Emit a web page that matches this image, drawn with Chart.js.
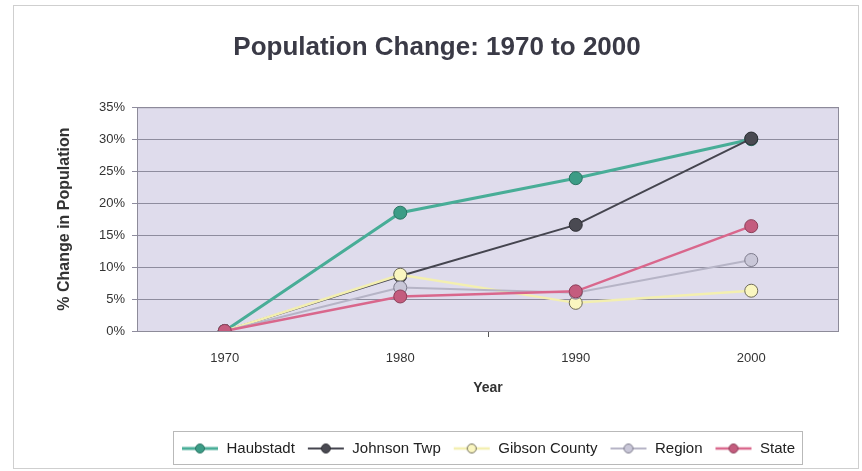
<!DOCTYPE html>
<html>
<head>
<meta charset="utf-8">
<script src="https://cdn.jsdelivr.net/npm/chart.js@4.4.1/dist/chart.umd.min.js"></script>
<style>
  html, body { margin: 0; padding: 0; background: #fff; }
  canvas { display: block; }
</style>
</head>
<body>
<canvas id="chart" width="862" height="471"></canvas>
<script>
// values, in percent
const years = ['1970', '1980', '1990', '2000'];
const haubstadt = [0, 18.5, 23.9, 30.0];
const johnsonTwp = [0, 8.6, 16.6, 30.1];
const gibsonCounty = [0, 8.8, 4.4, 6.3];
const region = [0, 6.8, 6.0, 11.1];
const state = [0, 5.4, 6.2, 16.4];
const seriesNames = ['Haubstadt', 'Johnson Twp', 'Gibson County', 'Region', 'State'];
const seriesValues = [haubstadt, johnsonTwp, gibsonCounty, region, state];
const yMax = 35;
const yStep = 5;

const FONT = "'Liberation Sans', Arial, sans-serif";

const seriesStyles = [
  { line: '#48ad97', fill: '#3c9c86', border: '#2b7464', width: 3 },
  { line: '#45454f', fill: '#4a4a52', border: '#2e2e34', width: 2 },
  { line: '#f3efb0', fill: '#faf6c0', border: '#6f6c58', width: 2.5 },
  { line: '#b6b4c6', fill: '#c9c7d8', border: '#7d7b8c', width: 2 },
  { line: '#d9678c', fill: '#c45c7e', border: '#8c3f59', width: 2.5 },
];

// little line + marker icons for the legend
function legendIcon(style) {
  const c = document.createElement('canvas');
  c.width = 38;
  c.height = 12;
  const g = c.getContext('2d');
  g.strokeStyle = style.line;
  g.lineWidth = style.width;
  g.beginPath();
  g.moveTo(1, 6);
  g.lineTo(37, 6);
  g.stroke();
  g.fillStyle = style.fill;
  g.strokeStyle = style.border;
  g.lineWidth = 1;
  g.beginPath();
  g.arc(19, 6, 4.5, 0, Math.PI * 2);
  g.fill();
  g.stroke();
  return c;
}
const legendIcons = seriesStyles.map(legendIcon);

const frame = {
  id: 'frame',
  beforeDraw(chart) {
    const { ctx, chartArea: a } = chart;
    ctx.save();
    ctx.strokeStyle = '#cfcfcf';
    ctx.lineWidth = 1;
    ctx.strokeRect(13.5, 5.5, 845, 463);
    ctx.fillStyle = '#dfdcec';
    ctx.fillRect(a.left, a.top, a.right - a.left, a.bottom - a.top);
    ctx.restore();
  },
  afterLayout(chart) {
    // centre the legend under the plot, like the original
    const lg = chart.legend;
    const a = chart.chartArea;
    lg.left = a.left;
    lg.right = a.right;
    lg.width = a.right - a.left;
    const tt = chart.titleBlock;
    if (tt) {
      tt.left = 35;
      tt.right = a.right;
      tt.width = tt.right - tt.left;
    }
  },
  afterDraw(chart) {
    const { ctx, chartArea: a } = chart;
    const lg = chart.legend;
    ctx.save();
    ctx.strokeStyle = '#8d8b99';
    ctx.lineWidth = 1;
    ctx.strokeRect(a.left + 0.5, a.top + 0.5, a.right - a.left - 1, a.bottom - a.top);
    const boxes = lg.legendHitBoxes;
    if (boxes && boxes.length) {
      const l = Math.min(...boxes.map((b) => b.left)) - 8;
      const r = Math.max(...boxes.map((b) => b.left + b.width)) + 7;
      const t = boxes[0].top - 10;
      const h = boxes[0].height + 18;
      ctx.strokeStyle = '#b9b9b9';
      ctx.strokeRect(Math.round(l) + 0.5, Math.round(t) + 0.5, Math.round(r - l), Math.round(h));
    }
    ctx.restore();
  },
};

new Chart(document.getElementById('chart'), {
  type: 'line',
  data: {
    labels: years,
    datasets: seriesNames.map((name, i) => ({
      label: name,
      data: seriesValues[i],
      borderColor: seriesStyles[i].line,
      borderWidth: seriesStyles[i].width,
      backgroundColor: seriesStyles[i].fill,
      pointBackgroundColor: seriesStyles[i].fill,
      pointBorderColor: seriesStyles[i].border,
      pointBorderWidth: 1,
      pointRadius: 6.5,
      tension: 0,
      // later series sit on top, as in the source
      order: seriesNames.length - i,
    })),
  },
  options: {
    responsive: false,
    animation: false,
    layout: { padding: { left: 0, right: 23, top: 0, bottom: 5 } },
    scales: {
      x: {
        offset: true,
        grid: {
          offset: true,
          drawOnChartArea: false,
          tickLength: 6,
          color: (c) => (c.index === 2 ? '#555' : 'rgba(0,0,0,0)'),
        },
        border: { display: false },
        ticks: { color: '#333', padding: 14, font: { family: FONT, size: 13 } },
        title: {
          display: true,
          text: 'Year',
          color: '#333',
          font: { family: FONT, size: 14, weight: 'bold' },
          padding: { top: 0, bottom: 32 },
        },
        afterFit(scale) { scale.height = 98; },
      },
      y: {
        min: 0,
        max: yMax,
        grid: { color: '#8e8c9e', tickLength: 5, lineWidth: 1 },
        border: { display: false },
        ticks: {
          stepSize: yStep,
          color: '#333',
          padding: 7,
          font: { family: FONT, size: 13 },
          callback: (v) => v + '%',
        },
        title: {
          display: true,
          text: '% Change in Population',
          color: '#333',
          font: { family: FONT, size: 16, weight: 'bold' },
          padding: { top: 55, bottom: 0 },
        },
        afterFit(scale) { scale.width = 137; },
      },
    },
    plugins: {
      title: {
        display: true,
        text: 'Population Change: 1970 to 2000',
        color: '#3a3a46',
        font: { family: FONT, size: 26, weight: 'bold' },
        padding: { top: 32, bottom: 44 },
      },
      legend: {
        position: 'bottom',
        labels: {
          usePointStyle: true,
          pointStyleWidth: 38,
          padding: 12,
          color: '#222',
          font: { family: FONT, size: 15 },
          generateLabels: () => seriesNames.map((name, i) => ({
            text: name,
            pointStyle: legendIcons[i],
            fillStyle: seriesStyles[i].fill,
            strokeStyle: seriesStyles[i].border,
            lineWidth: 0,
            fontColor: '#222',
            hidden: false,
            datasetIndex: i,
          })),
        },
      },
      tooltip: { enabled: false },
    },
  },
  plugins: [frame],
});
</script>
</body>
</html>
